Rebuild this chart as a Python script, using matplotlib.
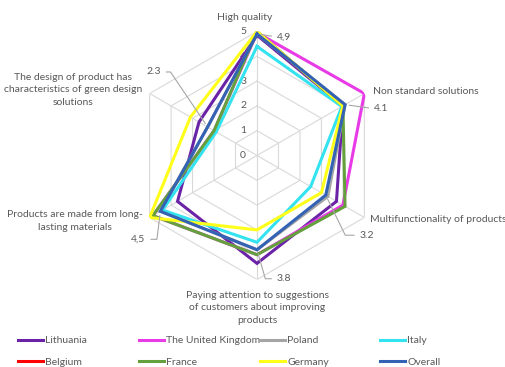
import numpy as np
import matplotlib
matplotlib.use("Agg")
import matplotlib.pyplot as plt
from matplotlib.lines import Line2D

plt.rcParams['font.family'] = ['Lato', 'DejaVu Sans']

categories = [
    "High quality",
    "Non standard solutions",
    "Multifunctionality of products",
    "Paying attention to suggestions\nof customers about improving\nproducts",
    "Products are made from long-\nlasting materials",
    "The design of product has\ncharacteristics of green design\nsolutions",
]

countries = ["Lithuania", "The United Kingdom", "Poland", "Italy",
             "Belgium", "France", "Germany", "Overall"]

lithuania = [4.85, 4.0, 3.7, 4.35, 3.7, 2.7]
united_kingdom = [4.95, 5.0, 4.0, 4.0, 4.85, 2.0]
poland = [4.9, 4.1, 3.3, 3.8, 4.5, 2.3]
italy = [4.4, 3.95, 2.5, 3.5, 4.4, 1.9]
belgium = [np.nan] * 6
france = [5.0, 4.0, 4.1, 4.0, 4.85, 2.0]
germany = [5.0, 4.0, 3.0, 3.0, 5.0, 3.1]
overall = [4.9, 4.1, 3.2, 3.8, 4.5, 2.3]

series = [lithuania, united_kingdom, poland, italy, belgium, france, germany, overall]
colors = ["#6a22a6", "#e83ae6", "#a5a5a5", "#33e3ef",
          "#ff0000", "#64a13c", "#ffff1a", "#3462b4"]

ticks = [0, 1, 2, 3, 4, 5]
text_color = "#595959"
grid_color = "#d9d9d9"
fs = 7.5

W, H = 505, 367
fig = plt.figure(figsize=(W / 100, H / 100), dpi=100)

cx, cy, R = 257, 155.5, 124
ax = fig.add_axes([(cx - R) / W, (H - cy - R) / H, 2 * R / W, 2 * R / H],
                  projection="polar")
ax.set_theta_offset(np.pi / 2)
ax.set_theta_direction(-1)
ax.set_ylim(0, 5)
ax.grid(False)
ax.set_xticks([])
ax.set_yticks([])
ax.spines["polar"].set_visible(False)
ax.patch.set_alpha(0)

n = len(categories)
theta = np.arange(n) * 2 * np.pi / n
theta_closed = np.append(theta, theta[0])

# hexagonal grid rings and spokes
for r in ticks[1:]:
    ax.plot(theta_closed, [r] * (n + 1), color=grid_color, lw=0.8, zorder=1)
for th in theta:
    ax.plot([th, th], [0, ticks[-1]], color=grid_color, lw=0.8, zorder=1)

# radial scale labels along the top spoke
for r in ticks:
    ax.annotate(str(r), xy=(0, r), xytext=(-10, 0), textcoords="offset points",
                ha="center", va="center", fontsize=fs, color=text_color, zorder=2)

# data series
for vals, col in zip(series, colors):
    v = np.append(vals, vals[0])
    ax.plot(theta_closed, v, color=col, lw=2.2, solid_joinstyle="miter", zorder=3)

# value labels for the overall series with leader lines
px = 0.72
label_specs = [
    # (offset x px, offset y px, ha, connection, decimal separator)
    (20, -3, "left", "arc3", ","),
    (29, -4, "left", "arc3", "."),
    (34, -40, "left", "angle,angleA=0,angleB=-64,rad=0", "."),
    (20, -29, "left", "angle,angleA=0,angleB=-74,rad=0", "."),
    (-15, -28, "right", "angle,angleA=0,angleB=-97,rad=0", ","),
    (-47, 55, "right", "angle,angleA=0,angleB=-56,rad=0", "."),
]
for th, val, (ox, oy, ha, conn, sep) in zip(theta, overall, label_specs):
    txt = f"{val:.1f}".replace(".", sep)
    ax.annotate(txt, xy=(th, val), xytext=(ox * px, oy * px),
                textcoords="offset points", ha=ha, va="center",
                fontsize=fs, color=text_color, zorder=4,
                arrowprops=dict(arrowstyle="-", color="#a6a6a6", lw=0.8,
                                connectionstyle=conn, shrinkA=2, shrinkB=3,
                                relpos=(0 if ha == "left" else 1, 0.5)))

# category labels
cat_pos = [
    (245, 17, "center"),
    (373, 91, "left"),
    (370, 220, "left"),
    (257, 308, "center"),
    (75, 221, "center"),
    (73, 90, "center"),
]
for lab, (x, y, ha) in zip(categories, cat_pos):
    fig.text(x / W, 1 - y / H, lab, ha=ha, va="center", fontsize=fs,
             color=text_color, linespacing=1.45)

# legend laid out in four fixed columns
col_x = [18, 139, 260, 380]
for c in range(4):
    idx = [c, c + 4]
    handles = [Line2D([], [], color=colors[i], lw=2.2) for i in idx]
    fig.legend(handles, [countries[i] for i in idx], loc="upper left",
               bbox_to_anchor=(col_x[c] / W, 1 - 336 / H), frameon=False,
               fontsize=fs, handlelength=2.4, handletextpad=0.2,
               borderpad=0, borderaxespad=0, labelspacing=1.2,
               labelcolor=text_color)

fig.savefig("out.png", dpi=100)
